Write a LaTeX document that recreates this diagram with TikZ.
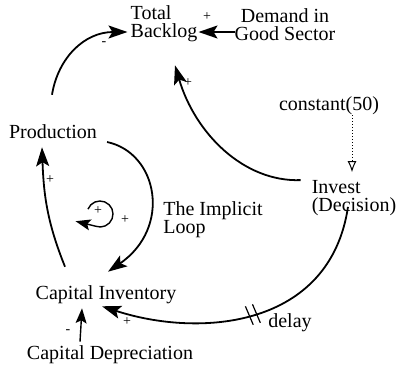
\documentclass[tikz,border=0pt]{standalone}
\usepackage{fontspec}
\setmainfont{Liberation Serif}
\usetikzlibrary{arrows.meta,calc}
\definecolor{Ink}{HTML}{000000}
\tikzset{
  var/.style={inner sep=0pt, text=Ink, font=\fontsize{20}{18}\selectfont},
  sign/.style={inner sep=0pt, text=Ink, font=\fontsize{14}{14}\selectfont},
  link/.style={draw=Ink, line width=1.8pt, -{Stealth[length=19pt,width=13pt,inset=4pt]}},
  thinlink/.style={draw=Ink, line width=1.4pt, -{Stealth[length=15pt,width=11pt,inset=3pt]}}
}

\begin{document}
\begin{tikzpicture}[x=1pt,y=1pt]
    \useasboundingbox (0,0) rectangle (413,368);
    \node[var, align=left] (backlog) at (164,344) {Total\\Backlog};
    \node[var, align=center] (demand) at (285,343) {Demand in\\Good Sector};
    \node[var] (const) at (329,262) {constant(50)};
    \node[var, align=left] (invest) at (354,170) {Invest\\(Decision)};
    \node[var] (production) at (53,236) {Production};
    \node[var, align=left] (implicit) at (213,148) {The Implicit\\Loop};
    \node[var] (capinv) at (106,73) {Capital Inventory};
    \node[var] (capdep) at (110,13) {Capital Depreciation};
    \node[var] (delaylbl) at (290,45) {delay};
    \coordinate (loopc) at (100,154);

    \draw[link] ([yshift=-7pt]demand.west) -- ([xshift=1pt,yshift=-8pt]backlog.east);
    \draw[link] ([xshift=-1pt,yshift=30pt]production.north) .. controls +(6,37) and +(-43,0) .. ([xshift=-3pt,yshift=-8pt]backlog.west);
    \draw[link] ([xshift=-11pt]invest.north west) .. controls +(-57,-2) and +(20,-68) .. ([xshift=11pt,yshift=-23pt]backlog.south);
    \draw[draw=Ink, line width=1pt, dotted, -{Latex[open,length=11pt,width=9pt]}] ([xshift=23pt]const.south) -- ([xshift=-2pt,yshift=8pt]invest.north);
    \draw[link] ([xshift=-41pt,yshift=19pt]capinv.north) to[out=112,in=-88] ([xshift=-11pt,yshift=-8pt]production.south);
    \draw[link] ([xshift=10pt,yshift=-10pt]production.east) .. controls +(51,-11) and +(64,44) .. ([xshift=2pt,yshift=14pt]capinv.north);
    \draw[thinlink] (loopc) ++(158:13pt) arc[start angle=158, end angle=-110, radius=13pt] -- ++(-20pt,5pt);
    \draw[thinlink] ([xshift=-30pt,yshift=4pt]capdep.north) -- ([xshift=-24pt,yshift=-4pt]capinv.south);
    \draw[link] ([xshift=-6pt,yshift=9pt]invest.south) .. controls +(-18,-121) and +(98,-32) .. ([xshift=-4pt,yshift=-2pt]capinv.south)
      coordinate[pos=0.495] (d1) coordinate[pos=0.52] (d2);
    \draw[Ink, line width=1.2pt] ($(d1)+(113:10pt)$) -- ($(d1)+(-67:10pt)$) ($(d2)+(113:10pt)$) -- ($(d2)+(-67:10pt)$);

    \node[sign] (s1) at (207,351) {+};
    \node[sign] (s2) at (104,324) {-};
    \node[sign] (s3) at (188,285) {+};
    \node[sign] (s4) at (50,188) {+};
    \node[sign] (s5) at (98,157) {+};
    \node[sign] (s6) at (125,148) {+};
    \node[sign] (s7) at (127,46) {+};
    \node[sign] (s8) at (68,36) {-};
\end{tikzpicture}
\end{document}
